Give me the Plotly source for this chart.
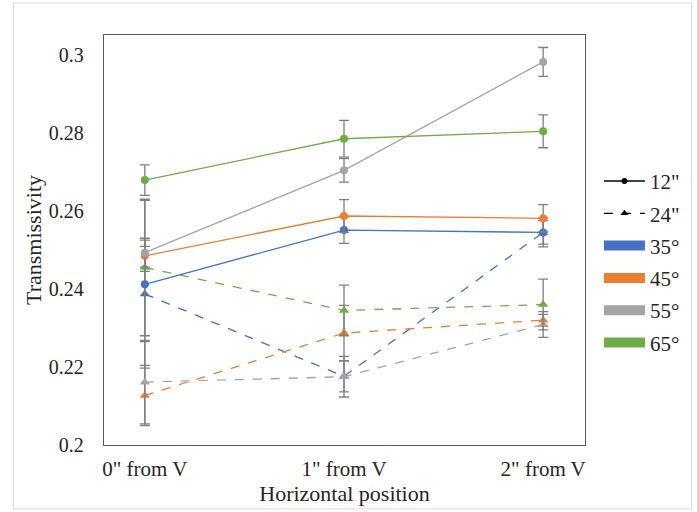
import plotly.graph_objects as go

positions = ['0" from V', '1" from V', '2" from V']
angles = ["35°", "45°", "55°", "65°"]
colors = ["#4472C4", "#ED7D31", "#A5A5A5", "#70AD47"]

# 12" series (solid, circles)
t12 = {
    "35°": [0.2412, 0.2551, 0.2545],
    "45°": [0.2485, 0.2587, 0.2581],
    "55°": [0.2493, 0.2704, 0.2982],
    "65°": [0.2679, 0.2785, 0.2804],
}
e12 = {
    "35°": [0.0215, 0.0034, 0.0037],
    "45°": [0.0040, 0.0042, 0.0035],
    "55°": [0.0037, 0.0030, 0.0037],
    "65°": [0.0039, 0.0047, 0.0042],
}
# 24" series (dashed, triangles)
t24 = {
    "35°": [0.2387, 0.2176, 0.2545],
    "45°": [0.2127, 0.2287, 0.2320],
    "55°": [0.2161, 0.2175, 0.2309],
    "65°": [0.2455, 0.2345, 0.2360],
}
e24 = {
    "35°": [0.0122, 0.0040, 0.0030],
    "45°": [0.0077, 0.0071, 0.0015],
    "55°": [0.0107, 0.0052, 0.0033],
    "65°": [0.0175, 0.0065, 0.0065],
}

FONT = "Liberation Serif"
ERR = "#7F7F7F"
TXT = "#262626"

fig = go.Figure()

def add_series(vals, errs, dash, symbol, size):
    for a, c in zip(angles, colors):
        fig.add_trace(go.Scatter(
            x=positions, y=vals[a], mode="lines+markers",
            line=dict(color=c, width=1.3, dash=dash),
            marker=dict(color=c, symbol=symbol, size=size),
            error_y=dict(type="data", array=errs[a], visible=True,
                         color=ERR, thickness=1.3, width=5),
            showlegend=False, hoverinfo="skip",
        ))

add_series(t24, e24, "dash", "triangle-up", 9)
add_series(t12, e12, "solid", "circle", 8)

# legend entries
fig.add_trace(go.Scatter(x=[None], y=[None], mode="lines+markers", name='12"',
                         line=dict(color="black", width=1.3),
                         marker=dict(color="black", symbol="circle", size=6),
                         legendgroup="a"))
fig.add_trace(go.Scatter(x=[None], y=[None], mode="lines+markers", name='24"',
                         line=dict(color="black", width=1.3, dash="dash"),
                         marker=dict(color="black", symbol="triangle-up", size=7),
                         legendgroup="b"))
for i, (a, c) in enumerate(zip(angles, colors)):
    fig.add_trace(go.Scatter(x=[None], y=[None], mode="lines", name=a,
                             line=dict(color=c, width=10),
                             legendgroup="g%d" % i))

fig.update_layout(
    width=697, height=512,
    margin=dict(l=104, r=110, t=35, b=67),
    paper_bgcolor="white", plot_bgcolor="white",
    font=dict(family=FONT, size=20, color=TXT),
    showlegend=True,
    legend=dict(x=1.029, y=0.693, xanchor="left", yanchor="top",
                font=dict(family=FONT, size=21, color=TXT),
                traceorder="grouped", tracegroupgap=2,
                bgcolor="rgba(0,0,0,0)", itemwidth=41),
    xaxis=dict(
        type="category", range=[-0.205, 2.21],
        showgrid=False, zeroline=False,
        showline=True, linecolor="#595959", linewidth=1.3, mirror=True,
        ticks="", ticklabelstandoff=5,
        tickfont=dict(family=FONT, size=21, color=TXT),
        title=dict(text="Horizontal position", standoff=3,
                   font=dict(family=FONT, size=22, color=TXT)),
    ),
    yaxis=dict(
        range=[0.2, 0.3051], tick0=0.2, dtick=0.02,
        showgrid=False, zeroline=False,
        showline=True, linecolor="#595959", linewidth=1.3, mirror=True,
        ticks="", ticklabelstandoff=15,
        tickfont=dict(family=FONT, size=20, color=TXT),
        title=dict(text="Transmissivity", standoff=1,
                   font=dict(family=FONT, size=22, color=TXT)),
    ),
    shapes=[dict(type="rect", xref="paper", yref="paper",
                 x0=-0.1884, x1=1.2215, y0=-0.156, y1=1.078,
                 line=dict(color="#D9D9D9", width=1), layer="below")],
)

fig.write_html("out.html")
